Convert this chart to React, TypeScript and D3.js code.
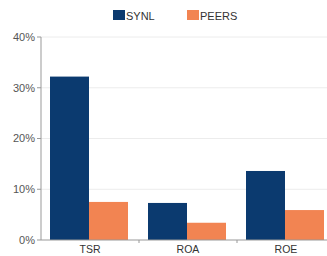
import React from 'react'
import * as d3 from 'd3'

const categories = ['TSR', 'ROA', 'ROE']
const seriesNames = ['SYNL', 'PEERS']
const synl = [0.322, 0.073, 0.136]
const peers = [0.075, 0.034, 0.059]
const yTicks = [0, 0.1, 0.2, 0.3, 0.4]
const colors = ['#0b3a6f', '#f28452']

const width = 327
const height = 256
const left = 41
const top = 37
const bottom = 240

const x = d3.scaleBand().domain(categories).range([left, 335])
const xSub = d3.scaleBand().domain(seriesNames).range([9, 87])
const y = d3.scaleLinear().domain([0, 0.4]).range([bottom, top])
const fmt = d3.format('.0%')

const values = [synl, peers]

export default function App() {
  return (
    <svg
      width={width}
      height={height}
      style={{ position: 'absolute', left: 0, top: 0, background: '#fff' }}
      fontFamily="Arial, 'Liberation Sans', sans-serif"
      fontSize="11"
    >
      {yTicks.map(t => (
        <g key={t}>
          {t > 0 && (
            <line x1={left} x2={width} y1={y(t)} y2={y(t)} stroke="#ececec" />
          )}
          <line x1={left - 4} x2={left} y1={y(t)} y2={y(t)} stroke="#999" />
          <text x={left - 6} y={y(t)} dy="0.35em" textAnchor="end" fill="#555">
            {fmt(t)}
          </text>
        </g>
      ))}
      {categories.map((c, i) => (
        <g key={c} transform={`translate(${x(c)},0)`}>
          {seriesNames.map((s, j) => (
            <rect
              key={s}
              x={xSub(s)}
              y={y(values[j][i])}
              width={xSub.bandwidth()}
              height={bottom - y(values[j][i])}
              fill={colors[j]}
            />
          ))}
          <text x={x.bandwidth() / 2} y={253} textAnchor="middle" fill="#333" fontSize="10.5">
            {c}
          </text>
          {i > 0 && <line x1={0} x2={0} y1={bottom} y2={bottom + 3} stroke="#999" />}
        </g>
      ))}
      <line x1={left} x2={left} y1={top} y2={bottom} stroke="#999" />
      <line x1={left} x2={width} y1={bottom} y2={bottom} stroke="#999" />
      <g transform="translate(113,10)">
        {seriesNames.map((s, j) => (
          <g key={s} transform={`translate(${j * 74},0)`}>
            <rect width={12} height={10} fill={colors[j]} />
            <text x={13} y={9.5} fill="#333">
              {s}
            </text>
          </g>
        ))}
      </g>
    </svg>
  )
}
